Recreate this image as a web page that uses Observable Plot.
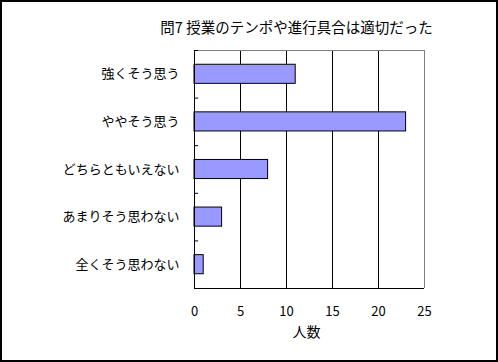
<!DOCTYPE html>
<html>
<head>
<meta charset="utf-8">
<script src="https://cdn.jsdelivr.net/npm/d3@7"></script>
<script src="https://cdn.jsdelivr.net/npm/@observablehq/plot@0.6"></script>
<style>
  html, body { margin: 0; padding: 0; background: #fff; }
  #wrap { position: relative; width: 498px; height: 362px; overflow: hidden; }
  #border { position: absolute; left: 0; top: 0; width: 498px; height: 362px; box-sizing: border-box; border: 2px solid #000; pointer-events: none; }
  svg { display: block; }
</style>
</head>
<body>
<div id="wrap"><div id="border"></div></div>
<script>
const title = "問7 授業のテンポや進行具合は適切だった";
const xLabel = "人数";
const categories = ["強くそう思う", "ややそう思う", "どちらともいえない", "あまりそう思わない", "全くそう思わない"];
const counts = [11, 23, 8, 3, 1];
const xTicks = [0, 5, 10, 15, 20, 25];

const data = categories.map((c, i) => ({category: c, i, value: counts[i]}));
const font = "'Noto Sans CJK JP', 'Noto Sans', sans-serif";

const chart = Plot.plot({
  width: 498,
  height: 362,
  marginLeft: 194,
  marginRight: 74,
  marginTop: 50,
  marginBottom: 74,
  style: {background: "#fff", color: "#000", fontFamily: font, overflow: "visible"},
  x: {domain: [0, 25]},
  y: {domain: [0, categories.length], reverse: true},
  marks: [
    Plot.ruleX([5, 10, 15, 20], {stroke: "#000", strokeWidth: 1}),
    Plot.ruleX([25], {stroke: "#808080", strokeWidth: 1}),
    Plot.ruleY([0], {stroke: "#808080", strokeWidth: 1}),
    Plot.rectX(data, {
      x1: 0, x2: "value", y1: "i", y2: d => d.i + 1,
      insetTop: 14.25, insetBottom: 14.25,
      fill: "#9999FF", stroke: "#000", strokeWidth: 1
    }),
    Plot.ruleX([0], {stroke: "#000", strokeWidth: 1}),
    Plot.ruleY([categories.length], {stroke: "#000", strokeWidth: 1}),
    Plot.ruleY(d3.range(0, categories.length), {x1: 0, x2: 0.45, stroke: "#000", strokeWidth: 1}),
    Plot.axisY({
      ticks: categories.map((_, i) => i + 0.5),
      tickFormat: d => categories[Math.round(d - 0.5)],
      tickSize: 0, tickPadding: 15, fontSize: 13, label: null
    }),
    Plot.axisX({
      ticks: xTicks, tickFormat: d => String(d),
      tickSize: 0, tickPadding: 18, fontSize: 13, label: null
    }),
    Plot.text([xLabel], {frameAnchor: "bottom", dy: 44, dx: -3, fontSize: 14, lineAnchor: "middle"}),
    Plot.text([title], {frameAnchor: "top", dy: -22, dx: -13, fontSize: 14.5, lineAnchor: "middle"})
  ]
});
document.getElementById("wrap").prepend(chart);
</script>
</body>
</html>
